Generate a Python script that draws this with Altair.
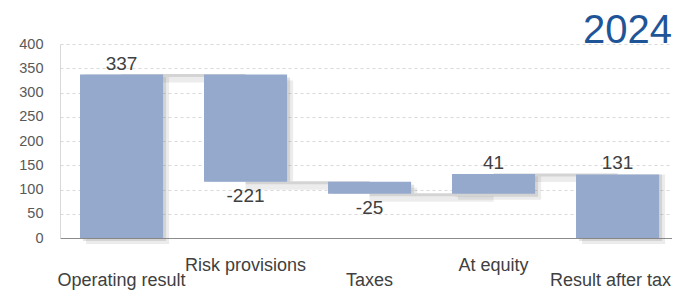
import altair as alt
import pandas as pd

categories = ["Operating result", "Risk provisions", "Taxes", "At equity", "Result after tax"]
values = [337, -221, -25, 41, 131]
is_total = [True, False, False, False, True]
label_row = [1, 0, 1, 0, 1]
y_ticks = [0, 50, 100, 150, 200, 250, 300, 350, 400]

# waterfall start/end from the values
starts, ends = [], []
running = 0
for v, t in zip(values, is_total):
    if t:
        s, e = 0, v
        running = v
    else:
        s, e = running, running + v
        running = e
    starts.append(s)
    ends.append(e)

df = pd.DataFrame({
    "cat": categories, "start": starts, "end": ends,
    "val": values, "label": [str(v) for v in values],
    "row": label_row,
    "pos": [v >= 0 for v in values],
    "last": [i == len(categories) - 1 for i in range(len(categories))],
})

conn = pd.DataFrame({
    "cat": categories[:-1], "next": categories[1:],
    "level": [ends[0], ends[1], ends[2], ends[3]],
})

FONT = "Liberation Sans"
BAR = "#95a9cd"
W, H = 612, 194

xscale = alt.Scale(domain=categories, paddingInner=0.33, paddingOuter=0.1327, align=0.608)
xaxis = alt.Axis(labels=False, ticks=False, title=None, domainColor="#8c8c8c", grid=False)
yscale = alt.Scale(domain=[0, 400])
yaxis = alt.Axis(values=y_ticks, title=None, ticks=False, labelOverlap=False,
                 labelFontSize=14.5, labelColor="#595959", labelFont=FONT,
                 labelPadding=17, domainColor="#d9d9d9",
                 gridColor="#d9d9d9", gridDash=[3, 3], tickCount=9)


def X(field="cat"):
    return alt.X(f"{field}:N", sort=categories, scale=xscale, axis=xaxis)


def Y(field):
    return alt.Y(f"{field}:Q", scale=yscale, axis=yaxis)


base = alt.Chart(df)

shadow1 = base.mark_bar(color="#808080", opacity=0.15, xOffset=6, yOffset=6).encode(
    x=X(), y=Y("start"), y2="end:Q")
shadow2 = base.mark_bar(color="#808080", opacity=0.22, xOffset=3, yOffset=3).encode(
    x=X(), y=Y("start"), y2="end:Q")

cbase = alt.Chart(conn)
conn_shadow = cbase.mark_rule(color="#808080", opacity=0.15, strokeWidth=6, yOffset=5).encode(
    x=X(), x2="next:N", y=Y("level"))
conn_line = cbase.mark_rule(color="#d4d4d4", strokeWidth=3, yOffset=1).encode(
    x=X(), x2="next:N", y=Y("level"))

bars = base.mark_bar(color=BAR).encode(x=X(), y=Y("start"), y2="end:Q")

lab_pos = base.transform_filter("datum.pos").mark_text(
    baseline="alphabetic", dy=-5, fontSize=19, font=FONT, color="#404040").encode(
    x=X(), y=Y("end"), text="label:N")
lab_neg = base.transform_filter("!datum.pos").mark_text(
    baseline="top", dy=5, fontSize=19, font=FONT, color="#404040").encode(
    x=X(), y=Y("end"), text="label:N")

cat0 = base.transform_filter("datum.row == 0").mark_text(
    baseline="alphabetic", fontSize=18, font=FONT, color="#404040").encode(
    x=X(), y=alt.value(226.5), text="cat:N")
cat1 = base.transform_filter("datum.row == 1 && !datum.last").mark_text(
    baseline="alphabetic", fontSize=18, font=FONT, color="#404040").encode(
    x=X(), y=alt.value(241.5), text="cat:N")
cat_last = base.transform_filter("datum.last").mark_text(
    align="right", baseline="alphabetic", fontSize=18, font=FONT, color="#404040").encode(
    x=alt.value(W - 1), y=alt.value(241.5), text="cat:N")

title = alt.Chart(pd.DataFrame({"t": ["2024"]})).mark_text(
    align="right", baseline="alphabetic", fontSize=40, font=FONT, color="#1f5597").encode(
    x=alt.value(W), y=alt.value(-1.5), text="t:N")

chart = alt.layer(shadow1, shadow2, conn_shadow, conn_line, bars, lab_pos, lab_neg,
                  cat0, cat1, cat_last, title).properties(
    width=W, height=H,
    autosize=alt.AutoSizeParams(type="none"),
    padding={"left": 52, "top": 36, "right": 0, "bottom": 52},
).configure_view(stroke=None)

chart.save("out.html", embed_options={"renderer": "svg", "actions": False})
